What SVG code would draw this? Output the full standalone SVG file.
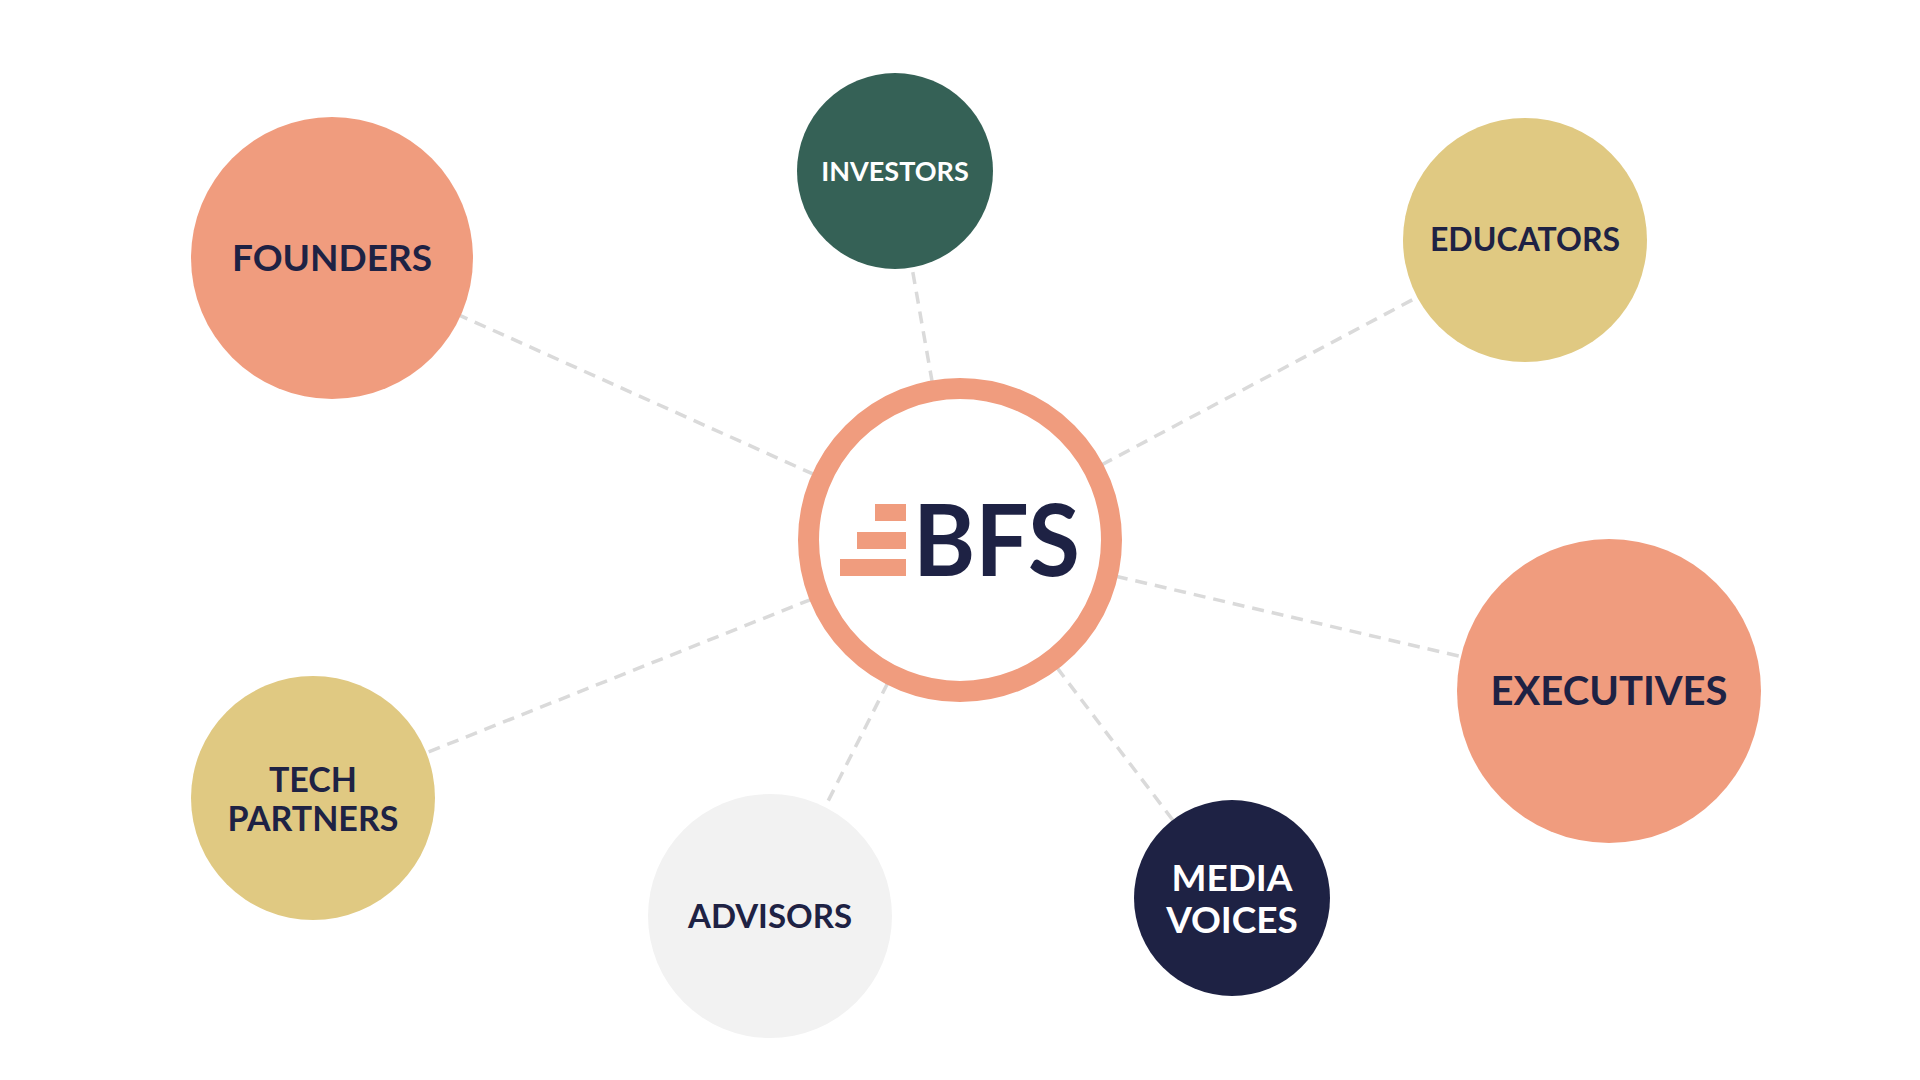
<svg xmlns="http://www.w3.org/2000/svg" width="1920" height="1080" viewBox="0 0 1920 1080">
<style>
.c line{stroke:#dadada;stroke-width:3.5;stroke-dasharray:12 8}
text{font-family:Lato,"Liberation Sans",sans-serif;font-weight:700;text-anchor:middle}
.d{fill:#1e2244}.w{fill:#fff}
</style>
<rect width="1920" height="1080" fill="#fff"/>
<g class="c">
<line x1="960" y1="540" x2="332" y2="258"/>
<line x1="960" y1="540" x2="895" y2="171"/>
<line x1="960" y1="540" x2="1525" y2="240"/>
<line x1="960" y1="540" x2="1609" y2="691"/>
<line x1="960" y1="540" x2="1232" y2="898"/>
<line x1="960" y1="540" x2="770" y2="916"/>
<line x1="960" y1="540" x2="313" y2="798"/>
</g>
<g id="founders"><circle cx="332" cy="258" r="141" fill="#f09c7e"/><text x="332" y="271" font-size="37" class="d">FOUNDERS</text></g>
<g id="investors"><circle cx="895" cy="171" r="98" fill="#356156"/><text x="895" y="181" font-size="27" class="w">INVESTORS</text></g>
<g id="educators"><circle cx="1525" cy="240" r="122" fill="#e0c982"/><text x="1525" y="251" font-size="32" class="d">EDUCATORS</text></g>
<g id="executives"><circle cx="1609" cy="691" r="152" fill="#f09c7e"/><text x="1609" y="705" font-size="40" class="d">EXECUTIVES</text></g>
<g id="media"><circle cx="1232" cy="898" r="98" fill="#1e2244"/><text x="1232" y="891" font-size="37" class="w">MEDIA</text><text x="1232" y="933" font-size="37" class="w">VOICES</text></g>
<g id="advisors"><circle cx="770" cy="916" r="122" fill="#f2f2f2"/><text x="770" y="928" font-size="33" class="d">ADVISORS</text></g>
<g id="tech"><circle cx="313" cy="798" r="122" fill="#e0c982"/><text x="313" y="792" font-size="34" class="d">TECH</text><text x="313" y="831" font-size="34" class="d">PARTNERS</text></g>
<g id="bfs">
<circle cx="960" cy="540" r="151.5" fill="#fff" stroke="#f09c7e" stroke-width="21"/>
<rect x="875" y="504" width="31" height="17" fill="#f09c7e"/>
<rect x="857" y="532" width="49" height="17" fill="#f09c7e"/>
<rect x="840" y="559" width="66" height="17" fill="#f09c7e"/>
<text x="913" y="576" font-size="100" font-weight="900" class="d" style="text-anchor:start" textLength="167" lengthAdjust="spacingAndGlyphs">BFS</text>
</g>
</svg>
